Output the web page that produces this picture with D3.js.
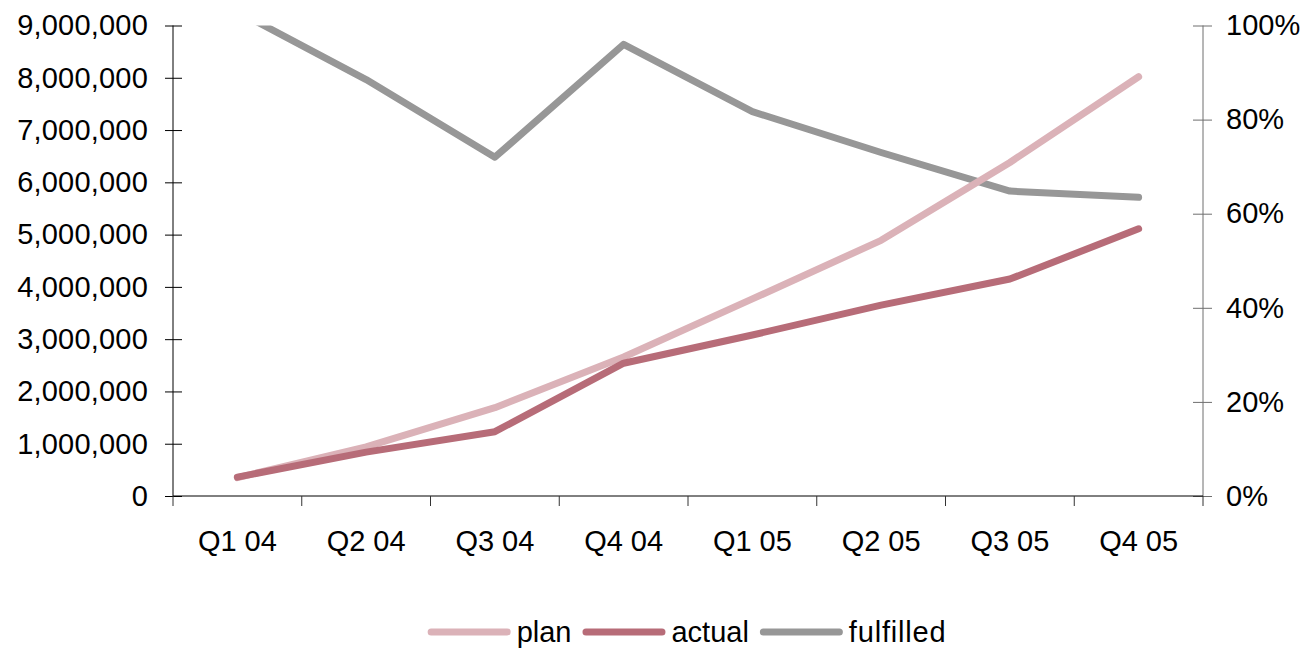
<!DOCTYPE html>
<html>
<head>
<meta charset="utf-8">
<script src="https://cdn.jsdelivr.net/npm/d3@7"></script>
<style>
  html, body { margin: 0; padding: 0; background: #fff; }
  svg { display: block; font-family: "Liberation Sans", Arial, sans-serif; }
</style>
</head>
<body>
<svg id="chart" width="1308" height="648"></svg>
<script>
// Quarterly plan vs. actual, with the fulfilment ratio on the right axis
const quarters = ["Q1 04", "Q2 04", "Q3 04", "Q4 04", "Q1 05", "Q2 05", "Q3 05", "Q4 05"];
const plan      = [350000, 940000, 1690000, 2660000, 3770000, 4890000, 6380000, 8020000];
const actual    = [360000, 840000, 1230000, 2540000, 3080000, 3650000, 4150000, 5110000];
const fulfilled = [1.03, 0.885, 0.72, 0.96, 0.817, 0.73, 0.648, 0.635];

const leftTicks  = [0, 1000000, 2000000, 3000000, 4000000, 5000000, 6000000, 7000000, 8000000, 9000000];
const rightTicks = [0, 0.2, 0.4, 0.6, 0.8, 1.0];

const seriesNames  = ["plan", "actual", "fulfilled"];
const seriesColors = { plan: "#dbb2b8", actual: "#b76c78", fulfilled: "#979797" };

const plotLeft = 173, plotRight = 1203, plotTop = 25.5, plotBottom = 496;
const fontSize = 29;
const lineW = 7;

const svg = d3.select("#chart");

const x = d3.scaleBand().domain(quarters).range([plotLeft, plotRight]).padding(0);
const yL = d3.scaleLinear().domain([0, 9000000]).range([plotBottom, plotTop]);
const yR = d3.scaleLinear().domain([0, 1]).range([plotBottom, plotTop]);

const fmt = d3.format(",");
const pct = d3.format(".0%");

// Left value axis
const gL = svg.append("g")
  .attr("transform", `translate(${plotLeft},0)`)
  .call(d3.axisLeft(yL).tickValues(leftTicks).tickFormat(fmt).tickSize(8).tickPadding(17));
gL.select(".domain").attr("stroke", "#000").attr("d", `M0,${plotTop}V${plotBottom}`);
gL.selectAll(".tick line").attr("x1", 9).attr("x2", -8).attr("stroke", "#000");
gL.selectAll(".tick text").attr("font-size", fontSize).attr("fill", "#000")
  .attr("font-family", "Liberation Sans, Arial, sans-serif")
  .attr("letter-spacing", "0.2px");

// Right percentage axis
const gR = svg.append("g")
  .attr("transform", `translate(${plotRight},0)`)
  .call(d3.axisRight(yR).tickValues(rightTicks).tickFormat(pct).tickSize(9).tickPadding(14));
gR.select(".domain").attr("stroke", "#6e6e6e").attr("d", `M0,${plotTop}V${plotBottom}`);
gR.selectAll(".tick line").attr("x1", -10).attr("x2", 9).attr("stroke", "#6e6e6e");
gR.selectAll(".tick text").attr("font-size", fontSize).attr("fill", "#000")
  .attr("font-family", "Liberation Sans, Arial, sans-serif");

// Category axis with ticks on the band boundaries
const gX = svg.append("g")
  .attr("transform", `translate(0,${plotBottom})`);
gX.append("line").attr("x1", plotLeft).attr("x2", plotRight).attr("y1", 0).attr("y2", 0)
  .attr("stroke", "#000");
const boundaries = quarters.map(q => x(q)).concat([x(quarters[quarters.length - 1]) + x.bandwidth()]);
gX.selectAll("line.qtick").data(boundaries).join("line")
  .attr("class", "qtick")
  .attr("x1", d => d).attr("x2", d => d)
  .attr("y1", 0).attr("y2", 10)
  .attr("stroke", "#333");
gX.selectAll("text").data(quarters).join("text")
  .attr("x", d => x(d) + x.bandwidth() / 2)
  .attr("y", 55)
  .attr("text-anchor", "middle")
  .attr("font-size", fontSize)
  .attr("fill", "#000")
  .text(d => d);

// Plot-area clip for the ratio line
svg.append("defs").append("clipPath").attr("id", "plotClip")
  .append("rect").attr("x", plotLeft - 20).attr("y", plotTop)
  .attr("width", plotRight - plotLeft + 40).attr("height", plotBottom - plotTop + 20);

const cx = d => x(d) + x.bandwidth() / 2;

const lineL = d3.line().x((d, i) => cx(quarters[i])).y(d => yL(d));
const lineR = d3.line().x((d, i) => cx(quarters[i])).y(d => yR(d));

svg.append("path").datum(fulfilled)
  .attr("d", lineR)
  .attr("clip-path", "url(#plotClip)")
  .attr("fill", "none").attr("stroke", seriesColors.fulfilled)
  .attr("stroke-width", lineW).attr("stroke-linecap", "round").attr("stroke-linejoin", "round");

svg.append("path").datum(plan)
  .attr("d", lineL)
  .attr("fill", "none").attr("stroke", seriesColors.plan)
  .attr("stroke-width", lineW).attr("stroke-linecap", "round").attr("stroke-linejoin", "round");

svg.append("path").datum(actual)
  .attr("d", lineL)
  .attr("fill", "none").attr("stroke", seriesColors.actual)
  .attr("stroke-width", lineW).attr("stroke-linecap", "round").attr("stroke-linejoin", "round");

// Legend, centred under the chart
const legend = svg.append("g");
const legY = 632;
const swatch = 76, capR = lineW / 2, swGap = 6, itemGap = 11;
let lx = 0;
seriesNames.forEach(name => {
  const g = legend.append("g");
  g.append("line")
    .attr("x1", lx + capR).attr("x2", lx + capR + swatch).attr("y1", legY).attr("y2", legY)
    .attr("stroke", seriesColors[name]).attr("stroke-width", lineW).attr("stroke-linecap", "round");
  const tx = lx + swatch + 2 * capR + swGap;
  const t = g.append("text")
    .attr("x", tx)
    .attr("y", legY)
    .attr("dy", "0.35em")
    .attr("font-size", fontSize)
    .attr("fill", "#000")
    .attr("letter-spacing", name === "fulfilled" ? "0.8px" : "0px")
    .text(name);
  lx = tx + t.node().getComputedTextLength() + itemGap;
});
const legW = lx - itemGap;
legend.attr("transform", `translate(${687 - legW / 2},0)`);
</script>
</body>
</html>
